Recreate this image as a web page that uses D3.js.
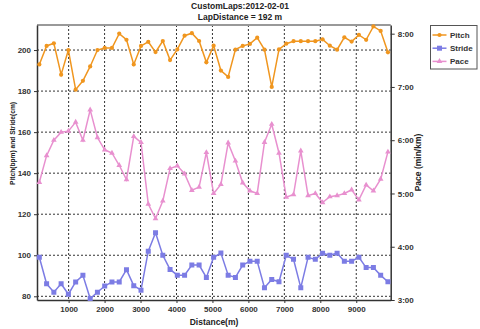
<!DOCTYPE html>
<html><head><meta charset="utf-8">
<script src="https://cdn.jsdelivr.net/npm/d3@7"></script>
<style>
body{margin:0;background:#fff;}
svg{display:block;font-family:"Liberation Sans",Arial,sans-serif;}
</style></head>
<body><svg id="c" width="480" height="329"></svg>
<script>
const distances = [185,387,589,791,993,1195,1397,1599,1801,2003,2205,2407,2609,2811,3013,3215,3417,3619,3821,4023,4225,4427,4629,4831,5033,5235,5437,5639,5841,6043,6245,6447,6649,6851,7053,7255,7457,7659,7861,8063,8265,8467,8669,8871,9073,9275,9477,9679,9881];
const pitch = [193,202,203.3,188,200,180.7,185,192,200,201,201,208,205,193,202,204,199,204.4,195.1,200.3,207,208.2,204.4,194,202.1,190,186.9,200.2,202,203,206,200.2,182,200.3,203.1,204.3,204.3,204.3,204.3,205.2,202.1,200.2,206.2,204.1,207.4,205,211.5,209.3,198.9];
const stride = [99,86.1,82,86.1,81,87,90.2,78.9,82,85,87,87,93,85.2,83,102,111,100,93.1,90.3,90.3,95.2,95.2,89.2,99,101.1,90.3,89.2,95.2,97.1,97.1,84.2,88.2,87.1,100,98,84.2,99,98,101,100,101,97.1,97.1,99,94,94,90.2,87.1];
const pace = [5.21,5.71,6.00,6.15,6.17,6.34,6.00,6.57,6.05,5.82,5.76,5.53,5.26,6.07,5.96,4.80,4.53,4.86,5.47,5.52,5.37,5.06,5.12,5.77,5.00,5.17,5.95,5.61,5.20,5.05,5.00,5.96,6.30,5.76,4.93,4.98,5.80,4.96,5.00,4.83,4.94,4.96,5.00,5.07,4.88,5.16,5.05,5.27,5.78];
const xTicks = [1000,2000,3000,4000,5000,6000,7000,8000,9000];
const leftTicks = [80,100,120,140,160,180,200];
const rightTicks = [3,4,5,6,7,8];
const seriesNames = ["Pitch","Stride","Pace"];
const colors = {Pitch:"#f0961f",Stride:"#7c7ce4",Pace:"#e890cf"};

const svg = d3.select("#c");
const L=37,R=390.7,T=25,B=300;
const x = d3.scaleLinear().domain([120,9958]).range([L,R]);
const yL = d3.scaleLinear().domain([78.2,212.2]).range([B,T]);
const yR = d3.scaleLinear().domain([3,8.163]).range([B,T]);
const fmtPace = v => { const m=Math.floor(v); const s=Math.round((v-m)*60); return m+":"+String(s).padStart(2,"0"); };

// grid
const g = svg.append("g");
g.selectAll(".vx").data(xTicks).join("line")
  .attr("x1",d=>x(d)).attr("x2",d=>x(d)).attr("y1",T).attr("y2",B)
  .attr("stroke","#333").attr("stroke-dasharray","2,2").attr("stroke-width",1);
g.selectAll(".hy").data(leftTicks).join("line")
  .attr("x1",L).attr("x2",R).attr("y1",d=>yL(d)).attr("y2",d=>yL(d))
  .attr("stroke","#333").attr("stroke-dasharray","2,2").attr("stroke-width",1);

// top border
svg.append("line").attr("x1",L).attr("x2",R).attr("y1",T).attr("y2",T).attr("stroke","#999").attr("stroke-width",2);

// axes
const axStyle = sel => {
  sel.selectAll("text").attr("font-size","8px").attr("font-weight","bold").attr("fill","#333");
  sel.selectAll("line").attr("stroke","#333");
  sel.select(".domain").attr("stroke","#333");
};
svg.append("g").attr("transform",`translate(0,${B})`)
  .call(d3.axisBottom(x).tickValues(xTicks).tickSize(3).tickSizeOuter(0).tickFormat(d3.format("d")))
  .call(axStyle).call(s=>s.select(".domain").attr("stroke-width",1.5));
svg.append("g").attr("transform",`translate(${L},0)`)
  .call(d3.axisLeft(yL).tickValues(leftTicks).tickSize(3).tickSizeOuter(0).tickFormat(d3.format("d")))
  .call(axStyle).call(s=>s.select(".domain").attr("stroke-width",1.5));
svg.append("g").attr("transform",`translate(${R},0)`)
  .call(d3.axisRight(yR).tickValues(rightTicks).tickSize(4).tickSizeOuter(0).tickFormat(fmtPace))
  .call(axStyle).call(s=>s.select(".domain").attr("stroke-width",1.5));

// series
svg.append("clipPath").attr("id","pc").append("rect").attr("x",L-4).attr("y",T-4).attr("width",R-L+8).attr("height",B-T+8);
const plot = svg.append("g").attr("clip-path","url(#pc)");
function drawSeries(vals, scale, name, marker){
  const data = distances.map((d,i)=>[d,vals[i]]);
  plot.append("path").datum(data)
    .attr("d",d3.line().x(d=>x(d[0])).y(d=>scale(d[1])))
    .attr("fill","none").attr("stroke",colors[name]).attr("stroke-width",1.5);
  const sym = d3.symbol().type(marker.type).size(marker.size);
  plot.selectAll(null).data(data).join("path")
    .attr("transform",d=>`translate(${x(d[0])},${scale(d[1])})`)
    .attr("d",sym).attr("fill",colors[name]);
}
drawSeries(pace, yR, "Pace", {type:d3.symbolTriangle,size:14});
drawSeries(stride, yL, "Stride", {type:d3.symbolSquare,size:25});
drawSeries(pitch, yL, "Pitch", {type:d3.symbolCircle,size:14});

// titles
const txt = (x0,y0,s) => svg.append("text").attr("x",x0).attr("y",y0).attr("text-anchor","middle")
  .attr("font-size","8.5px").attr("font-weight","bold").attr("fill","#222").text(s);
txt(240,9,"CustomLaps:2012-02-01");
txt(240,19.5,"LapDistance = 192 m");
txt(214,325,"Distance(m)");
svg.append("text").attr("transform","translate(14.5,143.5) rotate(-90)").attr("text-anchor","middle")
  .attr("font-size","8px").attr("font-weight","bold").attr("fill","#222")
  .attr("textLength",83).attr("lengthAdjust","spacingAndGlyphs").text("Pitch(bpm) and Stride(cm)");
svg.append("text").attr("transform","translate(421,162.5) rotate(-90)").attr("text-anchor","middle").attr("font-size","8.5px").attr("font-weight","bold").attr("fill","#222").text("Pace (min/km)");

// legend
const lg = svg.append("g");
lg.append("rect").attr("x",430.5).attr("y",25.5).attr("width",46.5).attr("height",43.5).attr("fill","#fff").attr("stroke","#555");
const markers = {Pitch:{type:d3.symbolCircle,size:14},Stride:{type:d3.symbolSquare,size:25},Pace:{type:d3.symbolTriangle,size:14}};
seriesNames.forEach((n,i)=>{
  const yy = 35 + i*13.2;
  lg.append("line").attr("x1",432.5).attr("x2",446.5).attr("y1",yy).attr("y2",yy).attr("stroke",colors[n]).attr("stroke-width",1.5);
  lg.append("path").attr("transform",`translate(439.5,${yy})`).attr("d",d3.symbol().type(markers[n].type).size(markers[n].size)).attr("fill",colors[n]);
  lg.append("text").attr("x",450).attr("y",yy+3).attr("font-size","8px").attr("font-weight","bold").attr("fill","#333").text(n);
});
</script></body></html>
